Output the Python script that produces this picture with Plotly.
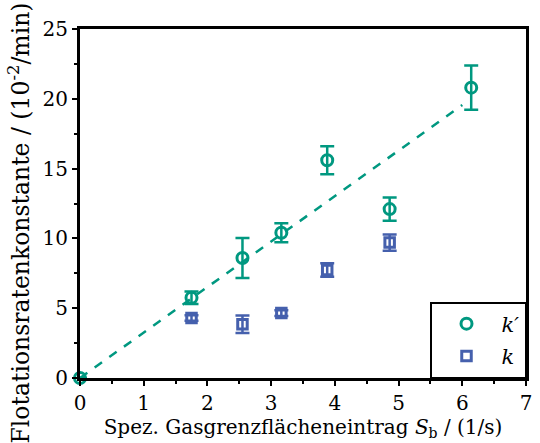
import plotly.graph_objects as go

# k' data
kp_x = [0, 1.75, 2.55, 3.16, 3.88, 4.86, 6.14]
kp_y = [0, 5.75, 8.6, 10.4, 15.6, 12.1, 20.8]
kp_err = [0, 0.45, 1.43, 0.68, 1.0, 0.83, 1.58]

# k data
k_x = [1.75, 2.55, 3.16, 3.88, 4.86]
k_y = [4.3, 3.85, 4.65, 7.74, 9.7]
k_err = [0.2, 0.62, 0.2, 0.48, 0.58]

# linear fit for k'
fit_x = [0, 6.0]
fit_y = [0, 19.55]

teal = "#009880"
blue = "#4560ad"
FONT = "DejaVu Serif"

fig = go.Figure()
fig.add_trace(go.Scatter(x=fit_x, y=fit_y, mode="lines",
                         line=dict(color=teal, width=2.5, dash="dash"),
                         showlegend=False, hoverinfo="skip"))
fig.add_trace(go.Scatter(x=kp_x, y=kp_y, mode="markers", name="<i>k′</i>",
                         legendgroup="a",
                         marker=dict(symbol="circle-open", size=11, color=teal,
                                     line=dict(width=3, color=teal)),
                         error_y=dict(type="data", array=kp_err, color=teal,
                                      thickness=2.5, width=7),
                         cliponaxis=False))
fig.add_trace(go.Scatter(x=k_x, y=k_y, mode="markers", name="<i>k</i>",
                         legendgroup="b",
                         marker=dict(symbol="square-open", size=9.5, color=blue,
                                     line=dict(width=3, color=blue)),
                         error_y=dict(type="data", array=k_err, color=blue,
                                      thickness=2.5, width=7),
                         cliponaxis=False))

axis_common = dict(showline=True, linewidth=3, linecolor="black", mirror=True,
                   ticks="outside", ticklen=5, tickwidth=2, tickcolor="black",
                   showgrid=False, zeroline=False,
                   tickfont=dict(family=FONT, size=20, color="black"))

fig.update_xaxes(range=[0, 7], dtick=1,
                 minor=dict(dtick=0.5, ticks="outside", ticklen=3, tickwidth=2, tickcolor="black"),
                 title=dict(text="Spez. Gasgrenzflächeneintrag <i>S</i><sub>b</sub> / (1/s)",
                            font=dict(family=FONT, size=20, color="black"), standoff=2),
                 **axis_common)
fig.update_yaxes(range=[0, 25], dtick=5,
                 minor=dict(dtick=2.5, ticks="outside", ticklen=3, tickwidth=2, tickcolor="black"),
                 **axis_common)

fig.add_annotation(text="Flotationsratenkonstante / (10<sup>-2</sup>/min)",
                   textangle=-90, xref="paper", yref="paper",
                   x=-0.135, y=0.445, xanchor="center", yanchor="middle",
                   showarrow=False,
                   font=dict(family=FONT, size=23.5, color="black"))

fig.update_layout(width=540, height=443,
                  margin=dict(l=80, r=8, t=29, b=65),
                  paper_bgcolor="white", plot_bgcolor="white",
                  legend=dict(x=1, y=0, xanchor="right", yanchor="bottom",
                              bordercolor="black", borderwidth=1.5, bgcolor="white",
                              font=dict(family=FONT, size=21, color="black"),
                              traceorder="grouped", tracegroupgap=2,
                              itemwidth=60))

fig.write_html("out.html")
